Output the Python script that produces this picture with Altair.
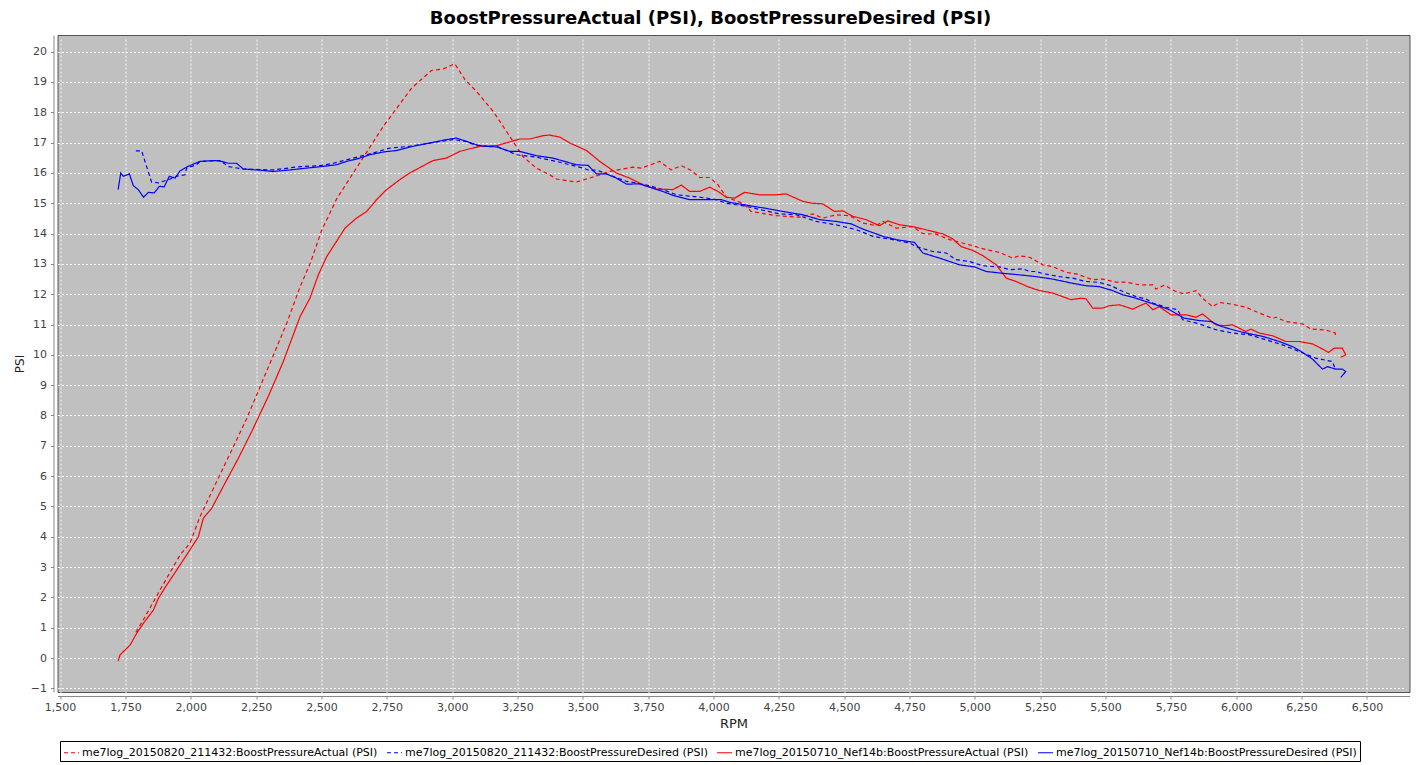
import altair as alt
import pandas as pd

# ---- data ----
s1_name = "me7log_20150820_211432:BoostPressureActual (PSI)"
s2_name = "me7log_20150820_211432:BoostPressureDesired (PSI)"
s3_name = "me7log_20150710_Nef14b:BoostPressureActual (PSI)"
s4_name = "me7log_20150710_Nef14b:BoostPressureDesired (PSI)"

s1_rpm = [1790, 1825, 1882, 1959, 1997, 2035, 2099, 2163, 2214, 2316, 2367, 2418, 2457, 2501, 2559,
          2609, 2736, 2845, 2921, 2966, 3010, 3049, 3093, 3157, 3221, 3271, 3322, 3373, 3399, 3475,
          3526, 3603, 3692, 3724, 3794, 3838, 3877, 3915, 3947, 3985, 4017, 4049, 4112, 4144, 4240,
          4329, 4380, 4418, 4469, 4520, 4571, 4622, 4648, 4699, 4762, 4801, 4852, 4903, 4979, 5043,
          5094, 5145, 5170, 5209, 5260, 5298, 5349, 5388, 5451, 5489, 5540, 5579, 5630, 5681, 5693,
          5725, 5769, 5801, 5846, 5871, 5910, 5935, 5986, 6037, 6088, 6139, 6152, 6190, 6254, 6286,
          6343, 6379, 6379]
s1_psi = [0.85, 1.36, 2.24, 3.40, 3.79, 4.66, 5.82, 6.97, 7.90, 9.99, 11.04, 12.24, 13.02, 14.11, 15.16,
          15.83, 17.53, 18.80, 19.38, 19.43, 19.60, 19.08, 18.69, 18.03, 17.20, 16.54, 16.16, 15.94, 15.80, 15.70,
          15.83, 16.05, 16.19, 16.16, 16.38, 16.10, 16.24, 16.08, 15.85, 15.85, 15.61, 15.20, 15.00, 14.73, 14.59,
          14.54, 14.65, 14.51, 14.62, 14.59, 14.35, 14.26, 14.40, 14.18, 14.23, 14.00, 13.98, 13.80, 13.63, 13.47,
          13.38, 13.19, 13.27, 13.22, 12.97, 12.91, 12.72, 12.67, 12.48, 12.50, 12.40, 12.40, 12.31, 12.31, 12.17,
          12.30, 12.09, 12.01, 12.12, 11.87, 11.59, 11.73, 11.67, 11.57, 11.38, 11.21, 11.24, 11.10, 11.02, 10.85,
          10.82, 10.72, 10.60]

s2_rpm = [1790, 1812, 1831, 1850, 1876, 1921, 1946, 1978, 1984, 2022, 2035, 2112, 2144, 2201, 2316,
          2418, 2494, 2545, 2621, 2698, 2762, 2838, 2927, 3004, 3055, 3093, 3170, 3246, 3322, 3399,
          3501, 3526, 3552, 3615, 3667, 3705, 3755, 3806, 3858, 3947, 4010, 4049, 4125, 4189, 4253,
          4317, 4393, 4469, 4546, 4610, 4686, 4750, 4775, 4839, 4890, 4928, 4979, 5031, 5094, 5133,
          5183, 5209, 5234, 5266, 5324, 5375, 5425, 5476, 5521, 5566, 5617, 5655, 5681, 5732, 5776,
          5795, 5859, 5922, 5986, 6050, 6113, 6177, 6241, 6305, 6368, 6379]
s2_psi = [16.73, 16.73, 16.21, 15.70, 15.67, 15.80, 15.89, 15.94, 16.16, 16.27, 16.38, 16.41, 16.21, 16.13, 16.10,
          16.21, 16.24, 16.32, 16.49, 16.66, 16.82, 16.88, 17.00, 17.10, 17.04, 16.90, 16.88, 16.60, 16.52, 16.38,
          16.16, 16.08, 16.10, 15.89, 15.72, 15.67, 15.58, 15.45, 15.28, 15.20, 15.12, 15.00, 14.90, 14.77, 14.65,
          14.62, 14.40, 14.29, 14.13, 13.91, 13.80, 13.69, 13.57, 13.41, 13.36, 13.14, 13.08, 12.94, 12.90, 12.81,
          12.84, 12.75, 12.75, 12.67, 12.58, 12.53, 12.42, 12.39, 12.28, 12.09, 11.92, 11.84, 11.71, 11.57, 11.49,
          11.16, 11.02, 10.83, 10.72, 10.66, 10.50, 10.33, 10.11, 9.89, 9.78, 9.53]

s3_rpm = [1722, 1729, 1768, 1793, 1819, 1857, 1876, 1908, 1946, 1984, 2029, 2048, 2080, 2131, 2182,
          2233, 2296, 2354, 2418, 2456, 2488, 2520, 2590, 2634, 2673, 2711, 2749, 2800, 2838, 2927,
          2978, 3029, 3106, 3170, 3259, 3297, 3348, 3373, 3412, 3450, 3514, 3565, 3628, 3679, 3730,
          3781, 3845, 3877, 3909, 3947, 3985, 4017, 4049, 4081, 4119, 4176, 4240, 4278, 4342, 4380,
          4418, 4463, 4495, 4533, 4584, 4635, 4667, 4712, 4762, 4801, 4839, 4878, 4916, 4948, 4993,
          5031, 5082, 5120, 5158, 5202, 5247, 5298, 5368, 5406, 5425, 5451, 5489, 5515, 5553, 5604,
          5655, 5681, 5706, 5751, 5808, 5846, 5871, 5922, 5954, 5986, 6037, 6056, 6088, 6139, 6190,
          6241, 6292, 6324, 6353, 6375, 6406, 6419, 6400]
s3_psi = [-0.10, 0.10, 0.43, 0.82, 1.15, 1.58, 1.97, 2.41, 2.90, 3.40, 4.00, 4.61, 4.94, 5.77, 6.59,
          7.47, 8.62, 9.78, 11.26, 11.87, 12.64, 13.24, 14.18, 14.51, 14.73, 15.12, 15.45, 15.78, 16.00, 16.41,
          16.49, 16.71, 16.88, 16.90, 17.12, 17.12, 17.23, 17.25, 17.18, 16.99, 16.74, 16.38, 16.00, 15.83, 15.61,
          15.47, 15.45, 15.60, 15.39, 15.39, 15.53, 15.39, 15.20, 15.17, 15.36, 15.28, 15.28, 15.31, 15.06, 15.00,
          14.98, 14.73, 14.75, 14.57, 14.46, 14.26, 14.42, 14.29, 14.23, 14.15, 14.07, 13.99, 13.82, 13.57, 13.44,
          13.27, 12.97, 12.53, 12.42, 12.25, 12.12, 12.04, 11.82, 11.87, 11.85, 11.54, 11.54, 11.62, 11.65, 11.51,
          11.71, 11.49, 11.59, 11.32, 11.32, 11.24, 11.35, 10.99, 10.96, 10.99, 10.77, 10.85, 10.72, 10.63, 10.44,
          10.44, 10.36, 10.22, 10.08, 10.22, 10.22, 10.00, 9.92]

s4_rpm = [1722, 1732, 1742, 1765, 1780, 1799, 1819, 1838, 1860, 1880, 1898, 1918, 1940, 1959, 1987,
          2035, 2093, 2118, 2144, 2175, 2201, 2252, 2316, 2380, 2443, 2500, 2558, 2596, 2647, 2685,
          2736, 2787, 2851, 2927, 2978, 3016, 3055, 3093, 3119, 3170, 3221, 3259, 3322, 3386, 3475,
          3520, 3552, 3590, 3628, 3667, 3717, 3755, 3806, 3845, 3909, 3985, 4030, 4062, 4119, 4151,
          4196, 4265, 4342, 4406, 4469, 4527, 4571, 4648, 4699, 4769, 4801, 4865, 4941, 4999, 5043,
          5107, 5170, 5234, 5298, 5368, 5425, 5476, 5527, 5566, 5604, 5655, 5693, 5744, 5801, 5859,
          5904, 5942, 5986, 6037, 6101, 6165, 6216, 6254, 6292, 6330, 6349, 6381, 6406, 6419, 6400]
s4_psi = [15.45, 16.00, 15.89, 15.97, 15.58, 15.45, 15.20, 15.36, 15.34, 15.56, 15.54, 15.89, 15.83, 16.07, 16.21,
          16.38, 16.41, 16.38, 16.32, 16.32, 16.13, 16.10, 16.05, 16.10, 16.16, 16.21, 16.27, 16.38, 16.49, 16.60,
          16.69, 16.74, 16.88, 17.01, 17.10, 17.15, 17.04, 16.93, 16.88, 16.86, 16.71, 16.71, 16.57, 16.49, 16.27,
          16.25, 15.97, 15.97, 15.83, 15.63, 15.64, 15.53, 15.39, 15.26, 15.12, 15.12, 15.12, 15.03, 14.95, 14.90,
          14.84, 14.73, 14.62, 14.46, 14.40, 14.32, 14.15, 13.91, 13.80, 13.71, 13.36, 13.19, 12.97, 12.90, 12.75,
          12.69, 12.64, 12.58, 12.50, 12.37, 12.28, 12.25, 12.12, 11.98, 11.90, 11.76, 11.65, 11.49, 11.21, 11.13,
          11.10, 10.94, 10.83, 10.72, 10.61, 10.44, 10.27, 10.08, 9.86, 9.53, 9.61, 9.53, 9.53, 9.45, 9.26]

series_names = [s1_name, s2_name, s3_name, s4_name]
series_colors = ["#FF0000", "#0000FF", "#FF0000", "#0000FF"]
series_dashes = [[4, 3], [4, 3], [1, 0], [1, 0]]
x_ticks = list(range(1500, 6501, 250))
y_ticks = list(range(-1, 21))

rows = []
for name, xs, ys in [(s1_name, s1_rpm, s1_psi), (s2_name, s2_rpm, s2_psi),
                     (s3_name, s3_rpm, s3_psi), (s4_name, s4_rpm, s4_psi)]:
    for i, (xv, yv) in enumerate(zip(xs, ys)):
        rows.append({"series": name, "idx": i, "RPM": xv, "PSI": yv})
df = pd.DataFrame(rows)

FONT = "DejaVu Sans"

chart = alt.Chart(df).mark_line(strokeWidth=1.2, clip=True).encode(
    x=alt.X("RPM:Q", scale=alt.Scale(domain=[1490, 6663], nice=False, zero=False),
            axis=alt.Axis(values=x_ticks, format=",d", title="RPM")),
    y=alt.Y("PSI:Q", scale=alt.Scale(domain=[-1.12, 20.55], nice=False, zero=False),
            axis=alt.Axis(values=y_ticks, format="d", title="PSI")),
    color=alt.Color("series:N", title=None,
                    scale=alt.Scale(domain=series_names, range=series_colors),
                    legend=alt.Legend(orient="none", legendX=2.5, legendY=706,
                                      direction="horizontal", columns=4,
                                      symbolType="stroke", symbolSize=225,
                                      symbolStrokeWidth=1.2, labelOffset=2,
                                      columnPadding=6, padding=3,
                                      strokeColor="black", fillColor="white",
                                      labelFont=FONT, labelFontSize=11,
                                      labelColor="#000000", labelLimit=0)),
    strokeDash=alt.StrokeDash("series:N", title=None,
                              scale=alt.Scale(domain=series_names, range=series_dashes)),
    order=alt.Order("idx:Q"),
).properties(
    width=1352, height=657,
    background="white",
    autosize=alt.AutoSizeParams(type="none"),
    padding={"left": 49.5, "top": 27, "right": 2, "bottom": 72},
    title=alt.TitleParams("BoostPressureActual (PSI), BoostPressureDesired (PSI)",
                          font=FONT, fontSize=18, fontWeight="bold", color="#000000",
                          anchor="middle", offset=7, dx=-23),
).configure_view(
    fill="#C0C0C0", stroke="#555555", strokeWidth=1,
).configure_axis(
    grid=True, gridColor="#FFFFFF", gridDash=[2, 2], gridOpacity=0.9, gridWidth=1,
    domainColor="#888888", tickColor="#888888", tickSize=3, offset=4,
    labelFont=FONT, labelFontSize=11, labelColor="#444444",
    titleFont=FONT, titleColor="#222222", titleFontWeight="normal",
).configure_axisX(
    labelPadding=2, titleFontSize=13, titlePadding=5,
).configure_axisY(
    labelPadding=4, titleFontSize=12, titlePadding=4,
)

chart.save("out.html", embed_options={"renderer": "svg", "actions": False})
